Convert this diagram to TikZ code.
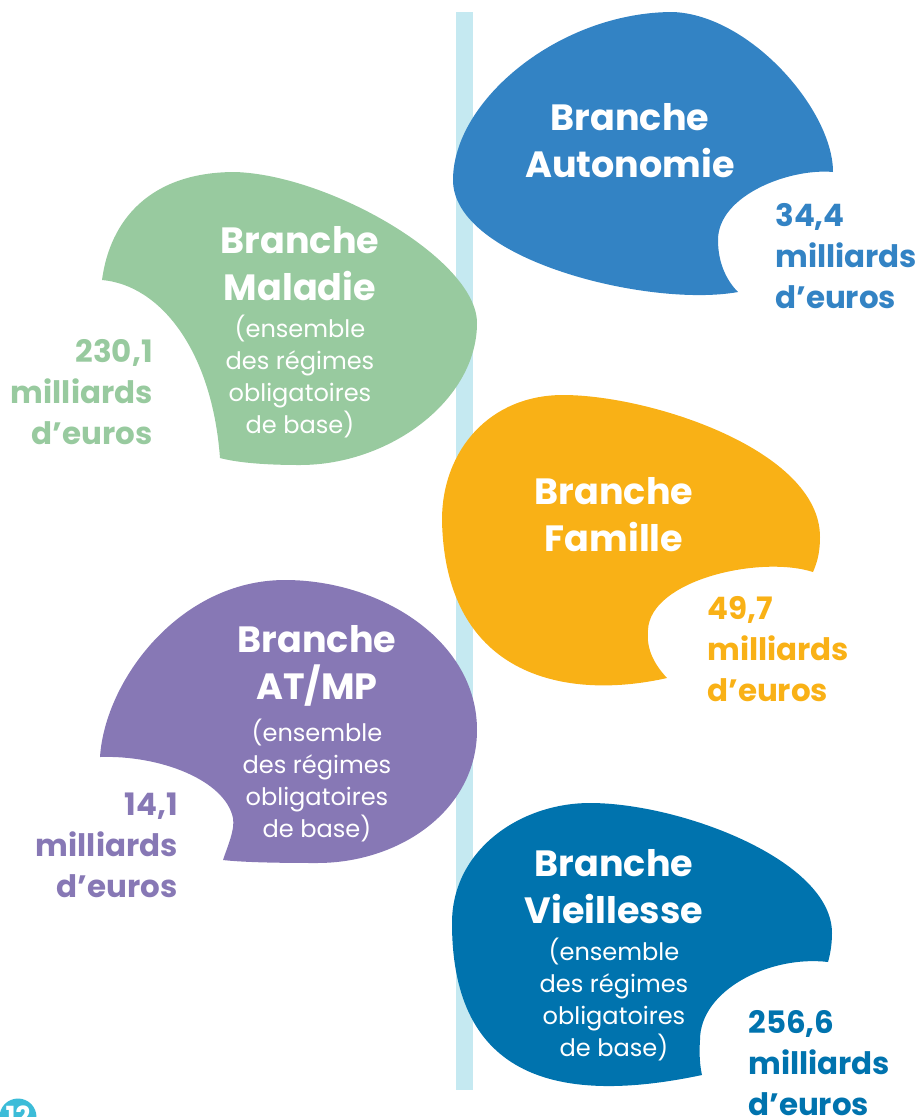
\documentclass[tikz,border=0pt]{standalone}
\usepackage{fontspec}
\setmainfont{Poppins}
\usetikzlibrary{positioning}
\definecolor{barblue}{HTML}{C5E9F1}
\definecolor{autoblue}{HTML}{3383C4}
\definecolor{maladiegreen}{HTML}{98CA9F}
\definecolor{familleorange}{HTML}{F9B116}
\definecolor{atmppurple}{HTML}{8778B5}
\definecolor{vieilblue}{HTML}{0073AE}
\definecolor{pagecyan}{HTML}{3CBCD8}
\begin{document}
\begin{tikzpicture}[x=0.02cm, y=-0.02cm, line join=round,
	title/.style={font=\fontsize{20.8}{26.7}\selectfont\bfseries, text=white, align=center, inner sep=0pt},
	note/.style={font=\fontsize{13.7}{18.2}\selectfont, text=white, align=center, inner sep=0pt},
	amount/.style={font=\fontsize{17.6}{23.3}\selectfont\bfseries, inner sep=0pt}]
		\useasboundingbox (0,0) rectangle (921,1117);
		% axe central
		\fill[barblue] (456,12) rectangle (473,1090);
		% Autonomie
		\fill[autoblue] (738,292) .. controls (650,308) and (453,260) .. (453,180)
			.. controls (453,100) and (560,12) .. (673,12)
			.. controls (750,15) and (833,110) .. (833,172)
			.. controls (790,168) and (718,195) .. (718,240)
			.. controls (718,265) and (728,282) .. cycle;
		% Maladie
		\fill[maladiegreen] (102,280) .. controls (110,220) and (150,172) .. (235,172)
			.. controls (330,175) and (477,260) .. (477,323)
			.. controls (477,400) and (390,465) .. (300,465)
			.. controls (260,465) and (235,462) .. (220,458)
			.. controls (212,350) and (160,285) .. cycle;
		% Famille
		\fill[familleorange] (667,678) .. controls (570,700) and (445,680) .. (442,520)
			.. controls (442,450) and (490,395) .. (563,395)
			.. controls (650,395) and (820,450) .. (820,537)
			.. controls (820,555) and (816,565) .. (813,572)
			.. controls (760,555) and (650,580) .. (648,630)
			.. controls (646,650) and (655,665) .. cycle;
		% AT/MP
		\fill[atmppurple] (100,757) .. controls (105,680) and (180,580) .. (285,580)
			.. controls (380,580) and (477,640) .. (477,730)
			.. controls (477,810) and (400,863) .. (317,863)
			.. controls (270,863) and (240,862) .. (223,860)
			.. controls (228,845) and (235,830) .. (233,818)
			.. controls (225,780) and (160,755) .. cycle;
		% Vieillesse
		\fill[vieilblue] (702,1075) .. controls (560,1105) and (452,1080) .. (452,923)
			.. controls (452,850) and (520,803) .. (590,803)
			.. controls (680,803) and (832,860) .. (832,933)
			.. controls (832,945) and (830,955) .. (828,962)
			.. controls (770,955) and (700,990) .. (700,1040)
			.. controls (699,1055) and (700,1066) .. cycle;
		% textes
		\node[title, anchor=north] (atitle) at (630,103) {Branche\\Autonomie};
		\node[amount, text=autoblue, anchor=north west, align=left] (aamount) at (775,203) {34,4\\milliards\\d’euros};
		\node[title, anchor=north] (mtitle) at (300,226) {Branche\\Maladie};
		\node[note, below=0.27cm of mtitle] (mnote) {(ensemble\\des régimes\\obligatoires\\de base)};
		\node[amount, text=maladiegreen, anchor=north east, align=right] (mamount) at (153,339) {230,1\\milliards\\d’euros};
		\node[title, anchor=north] (ftitle) at (614,477) {Branche\\Famille};
		\node[amount, text=familleorange, anchor=north west, align=left] (famount) at (707,596) {49,7\\milliards\\d’euros};
		\node[title, anchor=north] (ptitle) at (317,625) {Branche\\AT/MP};
		\node[note, below=0.25cm of ptitle] (pnote) {(ensemble\\des régimes\\obligatoires\\de base)};
		\node[amount, text=atmppurple, anchor=north east, align=right] (pamount) at (178,793) {14,1\\milliards\\d’euros};
		\node[title, anchor=north] (vtitle) at (614,849) {Branche\\Vieillesse};
		\node[note, below=0.27cm of vtitle] (vnote) {(ensemble\\des régimes\\obligatoires\\de base)};
		\node[amount, text=vieilblue, anchor=north west, align=left] (vamount) at (748,1010) {256,6\\milliards\\d’euros};
		% numero de page
		\fill[pagecyan] (18,1117) circle (0.37cm);
		\node[font=\fontsize{15}{18}\selectfont\bfseries, text=white] (pnum) at (18,1116) {12};
\end{tikzpicture}
\end{document}
